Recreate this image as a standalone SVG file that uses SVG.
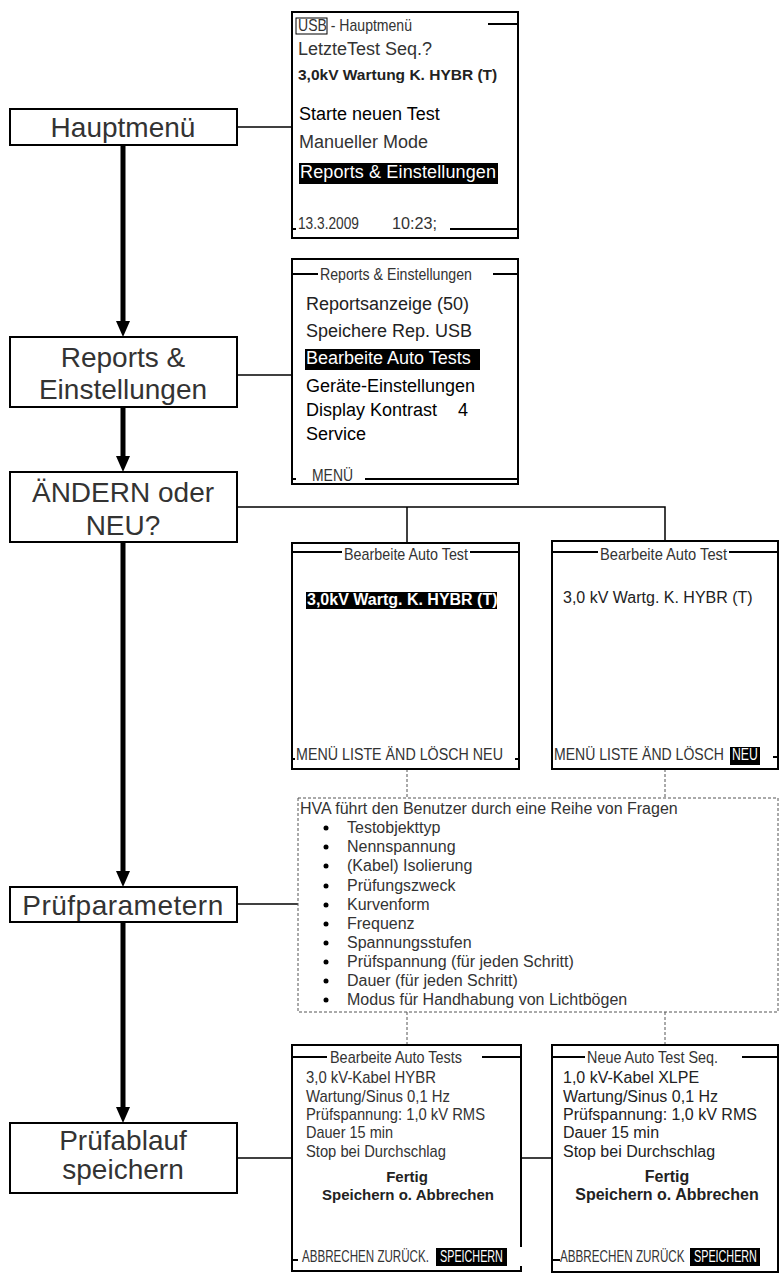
<svg xmlns="http://www.w3.org/2000/svg" width="779" height="1282" viewBox="0 0 779 1282">
<defs>
<marker id="ah" markerUnits="userSpaceOnUse" markerWidth="16" markerHeight="14" refX="0" refY="7" orient="auto"><path d="M0,0 L16,7 L0,14 z" fill="#000"/></marker>
</defs>
<style>
text{font-family:"Liberation Sans",Arial,sans-serif;}
.bx{fill:#fff;stroke:#000;stroke-width:2}
.lb{font-size:28px;fill:#333;text-anchor:middle}
.scr{fill:#fff;stroke:#000;stroke-width:2}
.tl{stroke:#000;stroke-width:2}
.t18{font-size:18px;fill:#222}
.t16{font-size:16px;fill:#222}
.nar{font-size:17px;fill:#333}
.btn{font-size:16px;fill:#333}
.b15{font-size:15px;font-weight:bold;fill:#222}
.b16{font-size:16px;font-weight:bold;fill:#222}
.con{stroke:#000;stroke-width:1.5;fill:none}
.dot{stroke:#555;stroke-width:1;stroke-dasharray:3 2;fill:none}
.arr{stroke:#000;stroke-width:5;marker-end:url(#ah)}
</style>
<rect width="779" height="1282" fill="#fff"/>

<g id="connectors">
<line class="arr" x1="123" y1="145" x2="123" y2="321"/>
<line class="arr" x1="123" y1="407" x2="123" y2="456"/>
<line class="arr" x1="123" y1="542" x2="123" y2="871"/>
<line class="arr" x1="123" y1="922" x2="123" y2="1107"/>
<line class="con" x1="237" y1="127" x2="292" y2="127"/>
<line class="con" x1="237" y1="375" x2="292" y2="375"/>
<polyline class="con" points="237,507 665,507 665,541"/>
<line class="con" x1="407" y1="507" x2="407" y2="543"/>
<line class="con" x1="237" y1="904" x2="298" y2="904"/>
<line class="con" x1="237" y1="1158" x2="292" y2="1158"/>
<line class="con" x1="521" y1="1158" x2="552" y2="1158"/>
<line class="dot" x1="407" y1="769" x2="407" y2="798"/>
<line class="dot" x1="665" y1="769" x2="665" y2="798"/>
<line class="dot" x1="407" y1="1012" x2="407" y2="1045"/>
<line class="dot" x1="665" y1="1012" x2="665" y2="1045"/>
</g>

<g id="box-hauptmenue">
<rect class="bx" x="10" y="109" width="227" height="36"/>
<text class="lb" x="123" y="137">Hauptmenü</text>
</g>
<g id="box-reports">
<rect class="bx" x="10" y="337" width="227" height="70"/>
<text class="lb" x="123" y="367">Reports &amp;</text>
<text class="lb" x="123" y="399">Einstellungen</text>
</g>
<g id="box-aendern">
<rect class="bx" x="10" y="472" width="227" height="70"/>
<text class="lb" x="123" y="502">ÄNDERN oder</text>
<text class="lb" x="123" y="535">NEU?</text>
</g>
<g id="box-pruefparameter">
<rect class="bx" x="10" y="887" width="227" height="35"/>
<text class="lb" x="123" y="915" letter-spacing="0.5">Prüfparametern</text>
</g>
<g id="box-pruefablauf">
<rect class="bx" x="10" y="1123" width="227" height="70"/>
<text class="lb" x="123" y="1150">Prüfablauf</text>
<text class="lb" x="123" y="1179">speichern</text>
</g>

<g id="screen-hauptmenue">
<rect class="scr" x="292" y="12" width="226" height="226"/>
<rect x="296" y="18" width="31" height="16" fill="none" stroke="#000" stroke-width="1"/>
<text class="nar" x="298" y="31" textLength="114" lengthAdjust="spacingAndGlyphs">USB - Hauptmenü</text>
<line class="tl" x1="488" y1="24" x2="518" y2="24"/>
<text class="t18" x="298" y="55" style="fill:#333">LetzteTest Seq.?</text>
<text class="b15" x="298" y="80" style="font-size:15.5px">3,0kV Wartung K. HYBR (T)</text>
<text class="t18" x="299" y="120" style="fill:#000">Starte neuen Test</text>
<text class="t18" x="299" y="148" style="fill:#333">Manueller Mode</text>
<rect x="299" y="163" width="199" height="21" fill="#000"/>
<text class="t18" x="300" y="178" textLength="196" lengthAdjust="spacing" style="fill:#fff">Reports &amp; Einstellungen</text>
<text class="nar" x="298" y="229" textLength="61" lengthAdjust="spacingAndGlyphs">13.3.2009</text>
<text class="nar" x="392" y="229" textLength="45" lengthAdjust="spacingAndGlyphs">10:23;</text>
<line class="tl" x1="450" y1="229" x2="518" y2="229"/>
<line class="tl" x1="292" y1="229" x2="296" y2="229"/>
</g>

<g id="screen-reports">
<rect class="scr" x="292" y="259" width="226" height="225"/>
<line class="tl" x1="292" y1="274" x2="318" y2="274"/>
<text class="nar" x="320" y="280" textLength="152" lengthAdjust="spacingAndGlyphs">Reports &amp; Einstellungen</text>
<line class="tl" x1="493" y1="274" x2="518" y2="274"/>
<text class="t18" x="306" y="310">Reportsanzeige (50)</text>
<text class="t18" x="306" y="337">Speichere Rep. USB</text>
<rect x="305" y="349" width="175" height="21" fill="#000"/>
<text class="t18" x="306" y="364" style="fill:#fff">Bearbeite Auto Tests</text>
<text class="t18" x="306" y="392" style="fill:#000">Geräte-Einstellungen</text>
<text class="t18" x="306" y="416" style="fill:#000">Display Kontrast</text>
<text class="t18" x="458" y="416" style="fill:#000">4</text>
<text class="t18" x="306" y="440" style="fill:#000">Service</text>
<text class="nar" x="312" y="481" textLength="41" lengthAdjust="spacingAndGlyphs">MENÜ</text>
<line class="tl" x1="365" y1="479" x2="518" y2="479"/>
<line class="tl" x1="292" y1="479" x2="296" y2="479"/>
</g>

<g id="screen-aendern">
<rect class="scr" x="292" y="543" width="227" height="226"/>
<line class="tl" x1="292" y1="552" x2="342" y2="552"/>
<text class="nar" x="344" y="560" textLength="124" lengthAdjust="spacingAndGlyphs">Bearbeite Auto Test</text>
<line class="tl" x1="470" y1="552" x2="519" y2="552"/>
<rect x="306" y="592" width="191" height="17" fill="#000"/>
<text class="b16" x="307" y="605" style="fill:#fff">3,0kV Wartg. K. HYBR (T)</text>
<text class="nar" transform="translate(296,760) scale(0.84,1)">MENÜ LISTE ÄND LÖSCH NEU</text>
<line class="tl" x1="515" y1="759" x2="519" y2="759"/>
<line class="tl" x1="292" y1="759" x2="295" y2="759"/>
</g>

<g id="screen-neu">
<rect class="scr" x="552" y="541" width="226" height="228"/>
<line class="tl" x1="552" y1="552" x2="598" y2="552"/>
<text class="nar" x="600" y="560" textLength="127" lengthAdjust="spacingAndGlyphs">Bearbeite Auto Test</text>
<line class="tl" x1="729" y1="552" x2="778" y2="552"/>
<text class="t16" x="563" y="603">3,0 kV Wartg. K. HYBR (T)</text>
<text class="nar" transform="translate(554,760) scale(0.826,1)">MENÜ LISTE ÄND LÖSCH</text>
<rect x="730" y="747" width="30" height="18" fill="#000"/>
<text class="nar" transform="translate(732,760) scale(0.72,1)" style="fill:#fff">NEU</text>
<line class="tl" x1="773" y1="757" x2="778" y2="757"/>
</g>

<g id="questions">
<rect class="dot" x="298" y="798" width="480" height="214"/>
<text class="t16" x="300" y="814" style="fill:#333">HVA führt den Benutzer durch eine Reihe von Fragen</text>
<g fill="#000">
<circle cx="326" cy="828" r="2.5"/>
<circle cx="326" cy="847" r="2.5"/>
<circle cx="326" cy="866" r="2.5"/>
<circle cx="326" cy="886" r="2.5"/>
<circle cx="326" cy="905" r="2.5"/>
<circle cx="326" cy="924" r="2.5"/>
<circle cx="326" cy="943" r="2.5"/>
<circle cx="326" cy="962" r="2.5"/>
<circle cx="326" cy="981" r="2.5"/>
<circle cx="326" cy="1000" r="2.5"/>
</g>
<g class="t16" style="fill:#333">
<text x="347" y="833">Testobjekttyp</text>
<text x="347" y="852">Nennspannung</text>
<text x="347" y="871">(Kabel) Isolierung</text>
<text x="347" y="891">Prüfungszweck</text>
<text x="347" y="910">Kurvenform</text>
<text x="347" y="929">Frequenz</text>
<text x="347" y="948">Spannungsstufen</text>
<text x="347" y="967">Prüfspannung (für jeden Schritt)</text>
<text x="347" y="986">Dauer (für jeden Schritt)</text>
<text x="347" y="1005">Modus für Handhabung von Lichtbögen</text>
</g>
</g>

<g id="screen-speichern-aendern">
<rect class="scr" x="292" y="1045" width="229" height="226"/>
<line class="tl" x1="292" y1="1057" x2="327" y2="1057"/>
<text class="nar" x="330" y="1063" textLength="132" lengthAdjust="spacingAndGlyphs">Bearbeite Auto Tests</text>
<line class="tl" x1="482" y1="1057" x2="521" y2="1057"/>
<text class="nar" x="306" y="1083" textLength="130" lengthAdjust="spacingAndGlyphs">3,0 kV-Kabel HYBR</text>
<text class="nar" x="306" y="1102" textLength="144" lengthAdjust="spacingAndGlyphs">Wartung/Sinus 0,1 Hz</text>
<text class="nar" x="306" y="1120" textLength="179" lengthAdjust="spacingAndGlyphs">Prüfspannung: 1,0 kV RMS</text>
<text class="nar" x="306" y="1138" textLength="87" lengthAdjust="spacingAndGlyphs">Dauer 15 min</text>
<text class="nar" x="306" y="1157" textLength="140" lengthAdjust="spacingAndGlyphs">Stop bei Durchschlag</text>
<text class="b15" x="407" y="1182" text-anchor="middle">Fertig</text>
<text class="b15" x="408" y="1200" text-anchor="middle">Speichern o. Abbrechen</text>
<rect x="514" y="1247" width="10" height="19" fill="#fff"/>
<text class="btn" transform="translate(302,1262) scale(0.725,1)">ABBRECHEN ZURÜCK.</text>
<rect x="436" y="1248" width="71" height="18" fill="#000"/>
<text class="btn" transform="translate(440,1262) scale(0.675,1)" style="fill:#fff">SPEICHERN</text>
<line class="tl" x1="292" y1="1260" x2="298" y2="1260"/>
</g>

<g id="screen-speichern-neu">
<rect class="scr" x="552" y="1045" width="226" height="227"/>
<line class="tl" x1="552" y1="1057" x2="585" y2="1057"/>
<text class="nar" x="587" y="1063" textLength="131" lengthAdjust="spacingAndGlyphs">Neue Auto Test Seq.</text>
<line class="tl" x1="742" y1="1057" x2="778" y2="1057"/>
<text class="t16" x="563" y="1083">1,0 kV-Kabel XLPE</text>
<text class="t16" x="563" y="1102">Wartung/Sinus 0,1 Hz</text>
<text class="t16" x="563" y="1120">Prüfspannung: 1,0 kV RMS</text>
<text class="t16" x="563" y="1138">Dauer 15 min</text>
<text class="t16" x="563" y="1157">Stop bei Durchschlag</text>
<text class="b16" x="667" y="1182" text-anchor="middle">Fertig</text>
<text class="b16" x="667" y="1200" text-anchor="middle">Speichern o. Abbrechen</text>
<text class="btn" transform="translate(560,1262) scale(0.73,1)">ABBRECHEN ZURÜCK</text>
<rect x="690" y="1248" width="70" height="18" fill="#000"/>
<text class="btn" transform="translate(694,1262) scale(0.675,1)" style="fill:#fff">SPEICHERN</text>
<line class="tl" x1="552" y1="1260" x2="560" y2="1260"/>
</g>
</svg>
